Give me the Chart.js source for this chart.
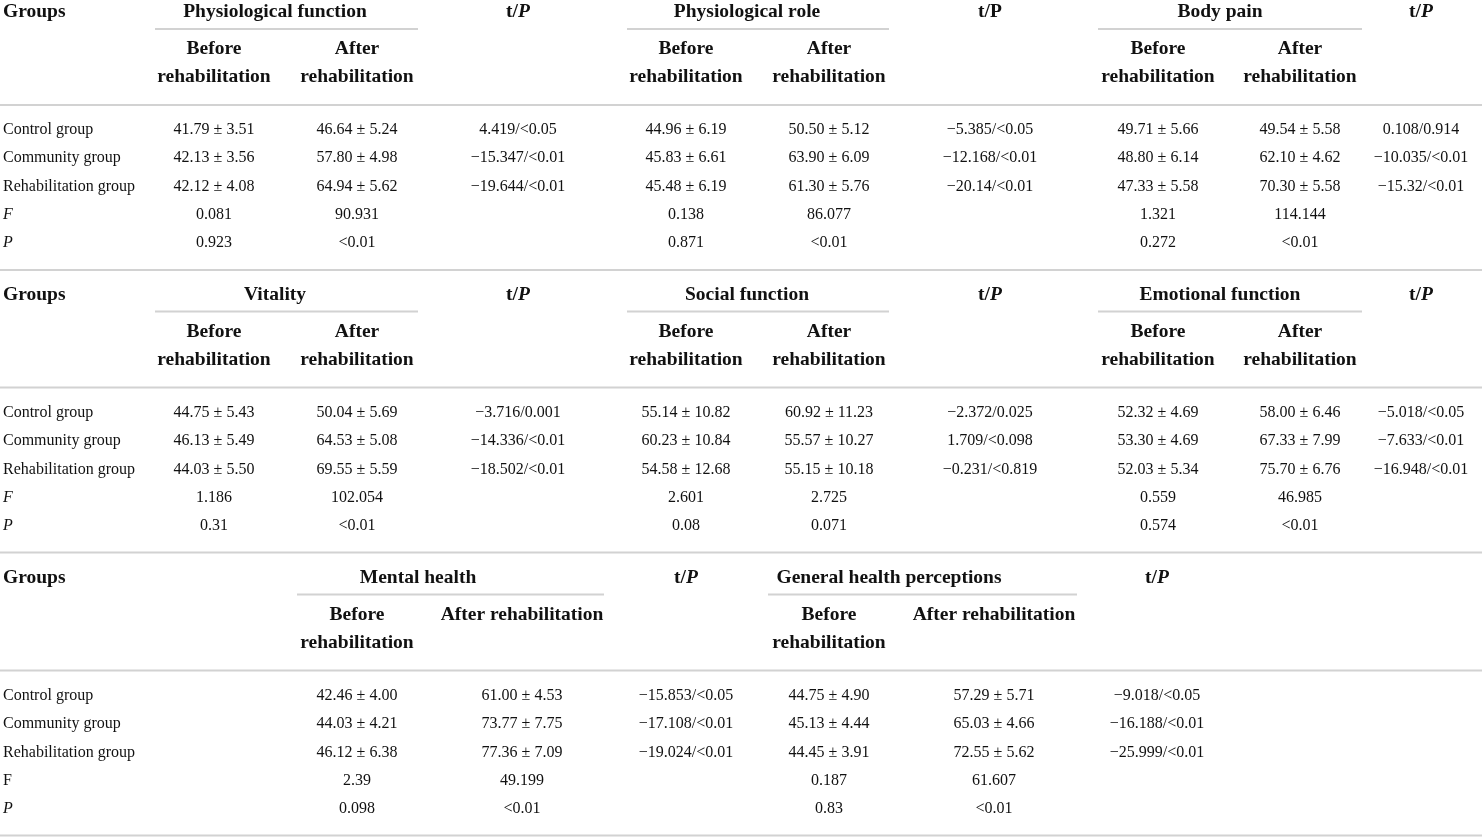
<!DOCTYPE html>
<html>
<head>
<meta charset="utf-8">
<script src="https://cdn.jsdelivr.net/npm/chart.js@4.4.1/dist/chart.umd.min.js"></script>
<style>
  html, body { margin: 0; padding: 0; background: #fff; }
  canvas { display: block; }
</style>
</head>
<body>
<canvas id="table" width="1482" height="838"></canvas>
<script>
const domains = [
  "Physiological function", "Physiological role", "Body pain",
  "Vitality", "Social function", "Emotional function",
  "Mental health", "General health perceptions",
];
const groups = ["Control group", "Community group", "Rehabilitation group"];

// mean / SD per domain, per group
const beforeMean = [
  [41.79, 42.13, 42.12], [44.96, 45.83, 45.48], [49.71, 48.80, 47.33],
  [44.75, 46.13, 44.03], [55.14, 60.23, 54.58], [52.32, 53.30, 52.03],
  [42.46, 44.03, 46.12], [44.75, 45.13, 44.45],
];
const beforeSD = [
  [3.51, 3.56, 4.08], [6.19, 6.61, 6.19], [5.66, 6.14, 5.58],
  [5.43, 5.49, 5.50], [10.82, 10.84, 12.68], [4.69, 4.69, 5.34],
  [4.00, 4.21, 6.38], [4.90, 4.44, 3.91],
];
const afterMean = [
  [46.64, 57.80, 64.94], [50.50, 63.90, 61.30], [49.54, 62.10, 70.30],
  [50.04, 64.53, 69.55], [60.92, 55.57, 55.15], [58.00, 67.33, 75.70],
  [61.00, 73.77, 77.36], [57.29, 65.03, 72.55],
];
const afterSD = [
  [5.24, 4.98, 5.62], [5.12, 6.09, 5.76], [5.58, 4.62, 5.58],
  [5.69, 5.08, 5.59], [11.23, 10.27, 10.18], [6.46, 7.99, 6.76],
  [4.53, 7.75, 7.09], [5.71, 4.66, 5.62],
];
const tp = [
  ["4.419/<0.05", "\u221215.347/<0.01", "\u221219.644/<0.01"],
  ["\u22125.385/<0.05", "\u221212.168/<0.01", "\u221220.14/<0.01"],
  ["0.108/0.914", "\u221210.035/<0.01", "\u221215.32/<0.01"],
  ["\u22123.716/0.001", "\u221214.336/<0.01", "\u221218.502/<0.01"],
  ["\u22122.372/0.025", "1.709/<0.098", "\u22120.231/<0.819"],
  ["\u22125.018/<0.05", "\u22127.633/<0.01", "\u221216.948/<0.01"],
  ["\u221215.853/<0.05", "\u221217.108/<0.01", "\u221219.024/<0.01"],
  ["\u22129.018/<0.05", "\u221216.188/<0.01", "\u221225.999/<0.01"],
];
const fBefore = ["0.081", "0.138", "1.321", "1.186", "2.601", "0.559", "2.39", "0.187"];
const fAfter = ["90.931", "86.077", "114.144", "102.054", "2.725", "46.985", "49.199", "61.607"];
const pBefore = ["0.923", "0.871", "0.272", "0.31", "0.08", "0.574", "0.098", "0.83"];
const pAfter = ["<0.01", "<0.01", "<0.01", "<0.01", "0.071", "<0.01", "<0.01", "<0.01"];

// header labels (underscores mark italic)
const groupsHead = "Groups";
const tpHead = ["t/_P_", "t/P", "t/_P_", "t/_P_", "t/_P_", "t/_P_", "t/_P_", "t/_P_"];
const statLabels = [["_F_", "_P_"], ["_F_", "_P_"], ["F", "_P_"]];
const beforeHead = ["Before", "rehabilitation"];
const afterHead = ["After", "rehabilitation"];
const afterHeadWide = ["After rehabilitation"];

// ---- layout ----
const blocks = [[0, 1, 2], [3, 4, 5], [6, 7]];
const blockTop = [0, 282.5, 565.5];
const rowY = { head: 12, subRule: 29, sub1: 49, sub2: 77, headRule: 105, body: [130, 158, 187, 215, 243], sep: 270 };
const wideCols = {
  domainX: [275, 747, 1220], beforeX: [214, 686, 1158], afterX: [357, 829, 1300],
  tpX: [518, 990, 1421], rule: [[155, 418], [627, 889], [1098, 1362]],
};
const lastCols = {
  domainX: [418, 889], beforeX: [357, 829], afterX: [522, 994],
  tpX: [686, 1157], rule: [[297, 604], [768, 1077]],
};
const labelX = 3;
const fullWidth = [0, 1482];

const BODY_FONT = '16px "Liberation Serif", "Times New Roman", serif';
const HEAD_FONT = 'bold 19.5px "Liberation Serif", "Times New Roman", serif';
const RULE_COLOR = "#d2d2d2";
const TEXT_COLOR = "#111";

const fmt = (m, s) => m.toFixed(2) + " \u00b1 " + s.toFixed(2);

// ---- datasets ----
const datasets = [];

function addText(points, texts, bold, align) {
  datasets.push({
    type: "scatter",
    data: points,
    cellText: texts,
    cellBold: bold,
    cellAlign: align,
    pointRadius: 0,
    pointHoverRadius: 0,
  });
}

function addRule(x0, x1, y) {
  datasets.push({
    type: "line",
    data: [{ x: x0, y: y }, { x: x1, y: y }],
    borderColor: RULE_COLOR,
    borderWidth: 2,
    pointRadius: 0,
    fill: false,
  });
}

blocks.forEach((doms, b) => {
  const top = blockTop[b];
  const cols = b === 2 ? lastCols : wideCols;

  addText([{ x: labelX, y: top + rowY.head }], [groupsHead], true, "left");

  const rowLabels = groups.concat(statLabels[b]);
  addText(rowY.body.map((y) => ({ x: labelX, y: top + y })), rowLabels, false, "left");

  doms.forEach((d, k) => {
    addText([{ x: cols.domainX[k], y: top + rowY.head }], [domains[d]], true, "center");
    addText([{ x: cols.tpX[k], y: top + rowY.head }], [tpHead[d]], true, "center");
    addRule(cols.rule[k][0], cols.rule[k][1], top + rowY.subRule);

    addText(
      beforeHead.map((_, i) => ({ x: cols.beforeX[k], y: top + (i ? rowY.sub2 : rowY.sub1) })),
      beforeHead, true, "center"
    );
    const aHead = b === 2 ? afterHeadWide : afterHead;
    addText(
      aHead.map((_, i) => ({ x: cols.afterX[k], y: top + (i ? rowY.sub2 : rowY.sub1) })),
      aHead, true, "center"
    );

    const beforeCells = groups.map((_, g) => fmt(beforeMean[d][g], beforeSD[d][g]))
      .concat([fBefore[d], pBefore[d]]);
    const afterCells = groups.map((_, g) => fmt(afterMean[d][g], afterSD[d][g]))
      .concat([fAfter[d], pAfter[d]]);
    addText(rowY.body.map((y) => ({ x: cols.beforeX[k], y: top + y })), beforeCells, false, "center");
    addText(rowY.body.map((y) => ({ x: cols.afterX[k], y: top + y })), afterCells, false, "center");
    addText(groups.map((_, g) => ({ x: cols.tpX[k], y: top + rowY.body[g] })),
      tp[d].map((s) => s.replace(/</g, "<")), false, "center");
  });

  addRule(fullWidth[0], fullWidth[1], top + rowY.headRule);
  addRule(fullWidth[0], fullWidth[1], top + rowY.sep);
});

// draws text pieces at the points the scales placed; "_" toggles italic
function drawCell(ctx, text, x, y, bold, align) {
  const base = bold ? HEAD_FONT : BODY_FONT;
  const parts = text.split("_").map((s, i) => ({ s, italic: i % 2 === 1 }));
  const fontOf = (p) => (p.italic ? "italic " : "") + base;
  let total = 0;
  parts.forEach((p) => {
    ctx.font = fontOf(p);
    p.w = ctx.measureText(p.s).width;
    total += p.w;
  });
  let cx = align === "center" ? x - total / 2 : x;
  parts.forEach((p) => {
    ctx.font = fontOf(p);
    ctx.fillText(p.s, cx, y);
    cx += p.w;
  });
}

const cellText = {
  id: "cellText",
  afterDatasetsDraw(chart) {
    const ctx = chart.ctx;
    ctx.save();
    ctx.fillStyle = TEXT_COLOR;
    ctx.textAlign = "left";
    ctx.textBaseline = "middle";
    chart.data.datasets.forEach((ds, i) => {
      if (!ds.cellText) return;
      chart.getDatasetMeta(i).data.forEach((pt, j) => {
        drawCell(ctx, ds.cellText[j], pt.x, pt.y, ds.cellBold, ds.cellAlign);
      });
    });
    ctx.restore();
  },
};

new Chart(document.getElementById("table"), {
  data: { datasets },
  plugins: [cellText],
  options: {
    responsive: false,
    animation: false,
    events: [],
    layout: { padding: 0 },
    plugins: { legend: { display: false }, tooltip: { enabled: false } },
    scales: {
      x: { type: "linear", min: 0, max: 1482, display: false },
      y: { type: "linear", min: 0, max: 838, reverse: true, display: false },
    },
  },
});
</script>
</body>
</html>
